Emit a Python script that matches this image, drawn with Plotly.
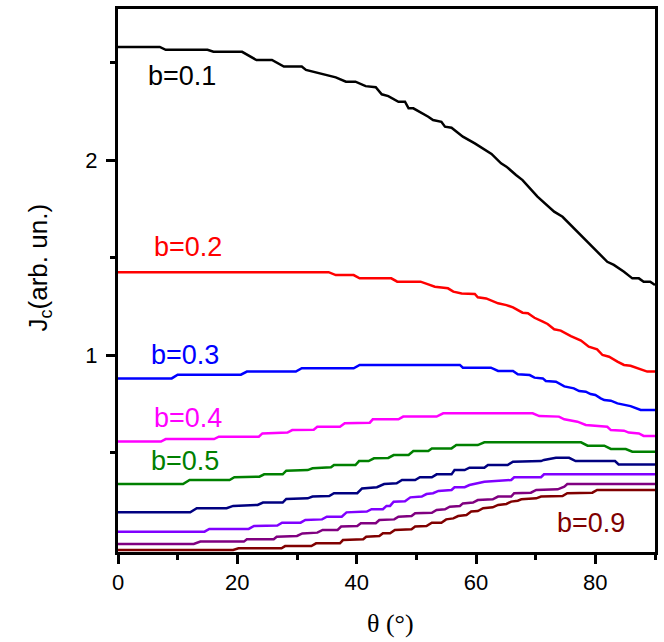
import plotly.graph_objects as go

# Critical current density Jc vs field angle theta for several reduced fields b
theta_01 = [0, 7.0, 8.0, 15.0, 16.0, 20.8, 23.2, 25.8, 27.8, 30.8, 31.5, 34.8, 36.5, 38.2, 39.8,
            41.5, 43.2, 44.2, 45.3, 47.0, 48.1, 48.7, 49.5, 52.0, 52.8, 54.2, 54.8, 55.9, 57.8,
            59.8, 62.6, 64.2, 65.1, 66.7, 67.8, 70.3, 73.1, 74.5, 82.0, 83.1, 84.8, 86.2, 87.3,
            88.1, 89.2, 90.0]
jc_01 = [2.58, 2.58, 2.565, 2.565, 2.555, 2.555, 2.513, 2.513, 2.479, 2.479, 2.462, 2.436, 2.424,
         2.402, 2.402, 2.379, 2.373, 2.337, 2.328, 2.299, 2.299, 2.265, 2.265, 2.222, 2.205, 2.196,
         2.171, 2.166, 2.12, 2.085, 2.031, 1.983, 1.966, 1.923, 1.897, 1.812, 1.735, 1.709, 1.478,
         1.462, 1.427, 1.393, 1.393, 1.376, 1.376, 1.359]

theta_02 = [0, 35.3, 36.5, 39.5, 40.5, 45.8, 46.8, 50.7, 52.0, 53.1, 55.3, 56.2, 57.6, 59.8, 60.3,
            61.7, 63.7, 65.1, 66.2, 67.8, 68.7, 69.8, 71.2, 72.0, 73.1, 74.2, 75.9, 77.6, 78.9,
            80.3, 81.2, 82.3, 83.7, 84.8, 85.9, 87.6, 88.7, 90.0]
jc_02 = [1.425, 1.425, 1.41, 1.41, 1.393, 1.393, 1.376, 1.376, 1.362, 1.35, 1.342, 1.325, 1.316,
         1.313, 1.296, 1.29, 1.265, 1.256, 1.244, 1.217, 1.214, 1.191, 1.171, 1.159, 1.132, 1.125,
         1.097, 1.074, 1.043, 1.029, 1.0, 0.991, 0.966, 0.949, 0.945, 0.926, 0.915, 0.915]

theta_03 = [0, 9.0, 10.0, 20.6, 21.6, 29.8, 30.8, 39.5, 40.5, 57.3, 57.8, 62.5, 63.7, 66.2, 67.0,
            69.0, 69.8, 71.2, 71.7, 73.4, 74.8, 76.4, 77.3, 78.4, 79.2, 80.0, 80.9, 81.5, 82.6,
            83.7, 85.9, 87.6, 90.0]
jc_03 = [0.88, 0.88, 0.899, 0.899, 0.915, 0.915, 0.932, 0.932, 0.949, 0.949, 0.935, 0.935, 0.918,
         0.918, 0.901, 0.897, 0.884, 0.88, 0.867, 0.863, 0.839, 0.829, 0.815, 0.812, 0.8, 0.795,
         0.778, 0.769, 0.766, 0.752, 0.738, 0.718, 0.718]

theta_04 = [0, 7.2, 8.0, 16.1, 16.9, 23.6, 24.2, 28.4, 29.2, 32.8, 33.4, 37.2, 38.0, 42.2, 42.7,
            47.0, 47.8, 53.4, 54.5, 69.5, 70.6, 73.9, 74.8, 77.0, 78.4, 82.0, 82.6, 84.8, 85.6,
            87.3, 88.1, 90.0]
jc_04 = [0.556, 0.556, 0.569, 0.569, 0.581, 0.581, 0.598, 0.602, 0.615, 0.617, 0.632, 0.632, 0.65,
         0.653, 0.67, 0.67, 0.684, 0.684, 0.701, 0.701, 0.687, 0.684, 0.67, 0.658, 0.641, 0.632,
         0.615, 0.612, 0.602, 0.598, 0.585, 0.585]

theta_05 = [0, 10.9, 12.0, 18.7, 19.5, 23.7, 24.5, 27.6, 28.2, 31.8, 32.6, 35.7, 36.2, 39.8, 40.4,
            42.0, 42.9, 45.3, 46.2, 48.7, 49.5, 52.0, 52.6, 55.9, 56.7, 60.3, 61.4, 77.6, 78.7,
            81.5, 82.6, 85.1, 86.2, 90.0]
jc_05 = [0.338, 0.338, 0.359, 0.359, 0.373, 0.376, 0.388, 0.388, 0.407, 0.41, 0.419, 0.424, 0.436,
         0.436, 0.456, 0.456, 0.47, 0.472, 0.487, 0.487, 0.508, 0.508, 0.521, 0.521, 0.538, 0.538,
         0.552, 0.552, 0.535, 0.535, 0.518, 0.518, 0.504, 0.504]

theta_06 = [0, 12.1, 13.2, 18.2, 19.3, 23.4, 24.3, 27.6, 28.2, 31.8, 32.6, 35.4, 36.2, 40.1, 40.9,
            43.4, 44.6, 46.7, 47.6, 49.8, 50.6, 52.6, 53.4, 55.9, 56.4, 58.1, 58.9, 61.4, 62.0,
            65.3, 66.2, 70.9, 71.4, 72.8, 73.4, 75.6, 76.7, 83.3, 83.9, 90.0]
jc_06 = [0.193, 0.193, 0.214, 0.214, 0.226, 0.231, 0.243, 0.243, 0.262, 0.265, 0.274, 0.277, 0.291,
         0.291, 0.316, 0.322, 0.338, 0.342, 0.359, 0.359, 0.373, 0.373, 0.388, 0.388, 0.41, 0.41,
         0.422, 0.422, 0.436, 0.436, 0.453, 0.456, 0.462, 0.467, 0.473, 0.473, 0.456, 0.456,
         0.439, 0.439]

theta_07 = [0, 14.5, 15.3, 21.9, 22.8, 26.7, 27.5, 30.6, 31.4, 34.2, 35.0, 37.5, 38.3, 41.7, 42.5,
            44.4, 45.0, 45.6, 46.2, 48.1, 49.0, 50.9, 51.7, 52.8, 53.7, 55.9, 56.4, 58.1, 58.9,
            60.3, 61.4, 65.9, 66.4, 70.9, 71.4, 90.0]
jc_07 = [0.094, 0.094, 0.108, 0.108, 0.123, 0.125, 0.14, 0.14, 0.154, 0.157, 0.171, 0.171, 0.193,
         0.197, 0.209, 0.209, 0.226, 0.226, 0.248, 0.25, 0.27, 0.274, 0.287, 0.291, 0.303, 0.308,
         0.322, 0.322, 0.333, 0.342, 0.35, 0.359, 0.373, 0.373, 0.388, 0.388]

theta_08 = [0, 12.7, 13.8, 21.1, 21.6, 26.1, 26.6, 30.0, 30.9, 33.4, 34.3, 36.8, 37.4, 40.1, 40.7,
            43.2, 43.8, 46.3, 47.0, 49.2, 49.8, 52.6, 53.4, 54.8, 55.6, 57.3, 57.8, 59.5, 60.3,
            62.8, 63.7, 65.9, 66.4, 69.2, 70.1, 73.7, 74.8, 75.3, 90.0]
jc_08 = [0.031, 0.031, 0.043, 0.043, 0.055, 0.055, 0.068, 0.072, 0.085, 0.089, 0.103, 0.103, 0.12,
         0.123, 0.137, 0.137, 0.154, 0.157, 0.171, 0.174, 0.188, 0.191, 0.205, 0.209, 0.222, 0.226,
         0.239, 0.243, 0.256, 0.26, 0.274, 0.274, 0.291, 0.294, 0.308, 0.311, 0.325, 0.338, 0.338]

theta_09 = [0, 19.3, 20.2, 27.4, 28.0, 32.4, 33.2, 37.2, 37.7, 41.1, 41.6, 43.8, 44.4, 45.6, 46.4,
            49.2, 49.8, 51.7, 52.6, 54.2, 55.0, 56.2, 57.0, 58.4, 59.2, 60.3, 61.2, 62.8, 63.7,
            65.1, 65.9, 67.0, 67.6, 70.1, 70.9, 74.5, 75.3, 79.5, 80.3, 90.0]
jc_09 = [0.0, 0.0, 0.009, 0.009, 0.02, 0.02, 0.034, 0.034, 0.051, 0.055, 0.068, 0.072, 0.086, 0.086,
         0.103, 0.106, 0.12, 0.123, 0.14, 0.14, 0.157, 0.162, 0.174, 0.179, 0.197, 0.2, 0.214,
         0.219, 0.231, 0.236, 0.248, 0.253, 0.26, 0.265, 0.274, 0.277, 0.291, 0.294, 0.308, 0.308]

series = [
    ("b=0.1", theta_01, jc_01, "#000000"),
    ("b=0.2", theta_02, jc_02, "#FF0000"),
    ("b=0.3", theta_03, jc_03, "#0000FF"),
    ("b=0.4", theta_04, jc_04, "#FF00FF"),
    ("b=0.5", theta_05, jc_05, "#008000"),
    ("b=0.6", theta_06, jc_06, "#000080"),
    ("b=0.7", theta_07, jc_07, "#8000FF"),
    ("b=0.8", theta_08, jc_08, "#800080"),
    ("b=0.9", theta_09, jc_09, "#800000"),
]

# Curve labels: (text, theta, Jc, colour)
curve_labels = [
    ("b=0.1", 10.8, 2.43, "#000000"),
    ("b=0.2", 11.7, 1.554, "#FF0000"),
    ("b=0.3", 11.3, 1.0, "#0000FF"),
    ("b=0.4", 11.7, 0.677, "#FF00FF"),
    ("b=0.5", 11.3, 0.456, "#008000"),
    ("b=0.9", 79.3, 0.138, "#800000"),
]

SANS = "Arial, Liberation Sans, sans-serif"

fig = go.Figure()
for name, th, jc, col in series:
    fig.add_trace(go.Scatter(x=th, y=jc, mode="lines", name=name,
                             line=dict(color=col, width=2.5), showlegend=False))

for text, tx, ty, col in curve_labels:
    fig.add_annotation(x=tx, y=ty, xref="x", yref="y", text=text, showarrow=False,
                       font=dict(family=SANS, size=27, color=col),
                       xanchor="center", yanchor="middle")

# Axis titles
fig.add_annotation(x=-0.148, y=0.523, xref="paper", yref="paper",
                   text="J<sub>c</sub>(arb. un.)", textangle=-90, showarrow=False,
                   font=dict(family=SANS, size=26, color="black"),
                   xanchor="center", yanchor="middle")
fig.add_annotation(x=0.508, y=-0.132, xref="paper", yref="paper",
                   text="θ (°)", showarrow=False,
                   font=dict(family="Times New Roman, Liberation Serif, serif", size=26,
                             color="black"),
                   xanchor="center", yanchor="middle")

axis_common = dict(showline=True, linecolor="black", linewidth=3, mirror=True,
                   showgrid=False, zeroline=False, ticks="outside", ticklen=9,
                   tickwidth=2.5, tickcolor="black",
                   tickfont=dict(family=SANS, size=22, color="black"))

fig.update_xaxes(range=[0, 90], tickvals=[0, 20, 40, 60, 80],
                 minor=dict(tickvals=[10, 30, 50, 70, 90], ticks="outside", ticklen=5,
                            tickwidth=2.5, tickcolor="black"),
                 **axis_common)
fig.update_yaxes(range=[-0.0103, 2.7745], tickvals=[1, 2], ticklabelstandoff=4,
                 minor=dict(tickvals=[0.5, 1.5, 2.5], ticks="outside", ticklen=5,
                            tickwidth=2.5, tickcolor="black"),
                 **axis_common)

fig.update_layout(width=664, height=642, margin=dict(l=118, r=6, t=9, b=90),
                  plot_bgcolor="white", paper_bgcolor="white")

fig.write_html("out.html")
